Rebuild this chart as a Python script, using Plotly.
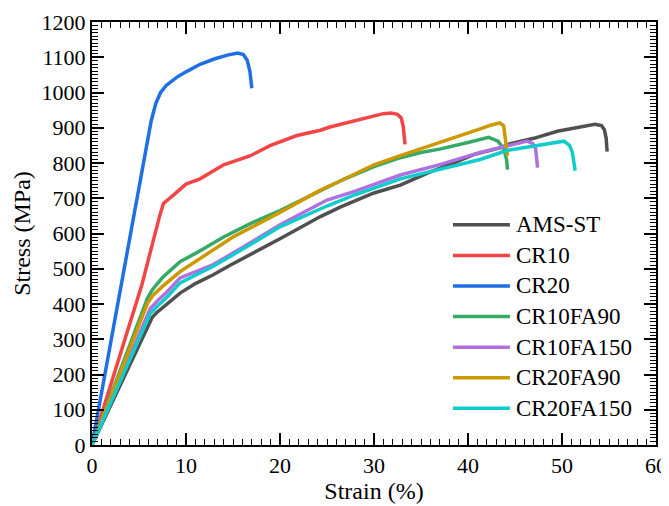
import plotly.graph_objects as go

names = ["AMS-ST", "CR10", "CR20", "CR10FA90", "CR10FA150", "CR20FA90", "CR20FA150"]
colors = ["#505050", "#F24545", "#1F6FE5", "#35AA66", "#B070E0", "#CC9900", "#10CCCC"]

ams_x = [0, 6.4, 6.9, 8, 9.37, 11, 12.9, 14.7, 16.5, 20, 24.3, 26.4, 30, 32.8, 36, 38, 40.6, 43.4, 44.5, 47, 49.5, 52, 53.5, 54.2, 54.5, 54.7, 54.8]
ams_y = [0, 362, 376, 400, 431, 458, 483, 510, 535, 585, 648, 675, 715, 737, 775, 795, 824, 843, 855, 870, 890, 902, 910, 906, 895, 870, 832]

cr10_x = [0, 5.3, 7.2, 7.6, 8.66, 10, 11.5, 14, 16.8, 19, 21.8, 24.3, 25.3, 28, 31, 31.8, 32.5, 32.9, 33.1, 33.2, 33.3]
cr10_y = [0, 454, 650, 685, 709, 740, 755, 795, 820, 850, 878, 893, 902, 920, 940, 942, 938, 928, 905, 880, 853]

cr20_x = [0, 3.7, 5.6, 6.3, 6.8, 7.3, 7.9, 9, 10.1, 11.5, 13, 14.4, 15.5, 16.1, 16.5, 16.8, 17.0]
cr20_y = [0, 541, 830, 920, 970, 1000, 1020, 1043, 1060, 1080, 1095, 1106, 1112, 1108, 1092, 1060, 1012]

cr10fa90_x = [0, 5.9, 6.4, 7.5, 9.37, 11.1, 14, 17, 20, 24.3, 26.4, 30, 32.8, 35, 37.1, 40, 42.2, 43.2, 43.8, 44.1, 44.2]
cr10fa90_y = [0, 416, 440, 475, 520, 545, 590, 630, 665, 723, 749, 790, 815, 830, 840, 858, 873, 862, 840, 810, 781]

cr10fa150_x = [0, 6.2, 7, 8, 9.37, 12.9, 16, 20, 25, 28, 32.8, 37.1, 41.3, 44, 46.3, 46.9, 47.2, 47.4]
cr10fa150_y = [0, 387, 410, 435, 474, 512, 560, 625, 695, 720, 766, 796, 830, 848, 862, 855, 840, 787]

cr20fa90_x = [0, 5.9, 6.5, 7.5, 9.37, 12.2, 15, 20, 24.3, 26.4, 30, 32.8, 35, 37.1, 40.3, 41.3, 42.5, 43.4, 43.8, 44.0, 44.2]
cr20fa90_y = [0, 402, 425, 450, 492, 541, 590, 660, 723, 749, 795, 821, 840, 859, 888, 897, 908, 914, 905, 870, 821]

cr20fa150_x = [0, 6.2, 7, 8, 9.37, 12.9, 16, 20, 25, 28, 32.8, 37.1, 41.3, 44.2, 47, 49.5, 50.2, 50.8, 51.1, 51.4]
cr20fa150_y = [0, 373, 395, 420, 460, 507, 555, 619, 678, 710, 755, 784, 810, 836, 848, 860, 862, 850, 830, 778]

xs = [ams_x, cr10_x, cr20_x, cr10fa90_x, cr10fa150_x, cr20fa90_x, cr20fa150_x]
ys = [ams_y, cr10_y, cr20_y, cr10fa90_y, cr10fa150_y, cr20fa90_y, cr20fa150_y]

x_ticks = [0, 10, 20, 30, 40, 50, 60]
y_ticks = list(range(0, 1201, 100))

FONT = "Liberation Serif"

fig = go.Figure()
for n, c, x, y in zip(names, colors, xs, ys):
    fig.add_trace(go.Scatter(x=x, y=y, mode="lines", name=n, showlegend=False,
                             line=dict(color=c, width=3.5)))

# legend drawn as line samples + text labels (paper coordinates)
leg_x0, leg_x1, leg_tx = 0.640, 0.741, 0.748
leg_top, leg_step = 0.5205, 0.0723
for i, (n, c) in enumerate(zip(names, colors)):
    yy = leg_top - i * leg_step
    fig.add_shape(type="line", xref="paper", yref="paper", x0=leg_x0, x1=leg_x1, y0=yy, y1=yy,
                  line=dict(color=c, width=3.5))
    fig.add_annotation(xref="paper", yref="paper", x=leg_tx, y=yy, text=n, showarrow=False,
                       xanchor="left", yanchor="middle",
                       font=dict(family=FONT, size=23, color="black"))

axis_common = dict(
    showline=True, linecolor="black", linewidth=2, mirror="ticks",
    ticks="inside", ticklen=12, tickwidth=1.5, tickcolor="black",
    showgrid=False, zeroline=False, automargin=False,
    tickfont=dict(family=FONT, size=22, color="black"),
)

fig.update_xaxes(range=[0, 60], tickvals=x_ticks,
                 minor=dict(dtick=1, ticks="inside", ticklen=6, tickwidth=1.2, tickcolor="black"),
                 title=dict(text="Strain (%)", font=dict(family=FONT, size=24, color="black"), standoff=4),
                 **axis_common)
fig.update_yaxes(range=[0, 1200], tickvals=y_ticks,
                 minor=dict(dtick=10, ticks="inside", ticklen=6, tickwidth=1.2, tickcolor="black"),
                 title=dict(text="Stress (MPa)", font=dict(family=FONT, size=24, color="black"), standoff=4),
                 **axis_common)

fig.update_layout(
    width=661, height=498,
    margin=dict(l=84, r=13, t=14, b=61),
    paper_bgcolor="white", plot_bgcolor="white",
    showlegend=False,
)

fig.write_html("out.html")
